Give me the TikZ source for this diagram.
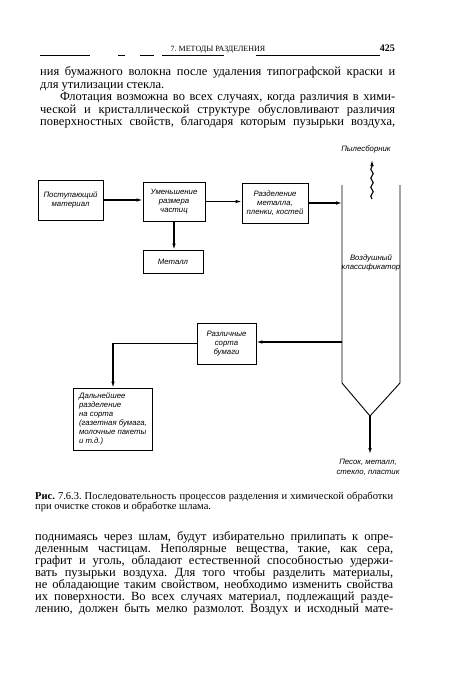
\documentclass[tikz,border=0pt]{standalone}
\usepackage{fontspec}
\setmainfont{Liberation Serif}
\setsansfont{Liberation Sans}
\usetikzlibrary{arrows.meta,decorations.pathmorphing}
\frenchspacing
\begin{document}
\begin{tikzpicture}[x=1pt,y=-1pt,
  box/.style={draw, line width=0.8pt, inner sep=1pt, font=\sffamily\itshape\fontsize{7.8}{9}\selectfont, align=center},
  conn/.style={line width=1.1pt, -{Latex[length=6pt,width=3.6pt]}},
  bodyline/.style={anchor=base west, inner sep=0pt, font=\fontsize{12.5}{12.5}\selectfont},
  capline/.style={anchor=base west, inner sep=0pt, font=\fontsize{10.5}{10.5}\selectfont},
  lbl/.style={font=\sffamily\itshape\fontsize{7.8}{9.5}\selectfont, align=center, inner sep=0pt},
]
\useasboundingbox[fill=white] (0,0) rectangle (450,675);

% header
\node[anchor=base, inner sep=0pt, font=\fontsize{8}{8}\selectfont] (hd) at (218,51) {7. МЕТОДЫ РАЗДЕЛЕНИЯ};
\node[anchor=base east, inner sep=0pt, font=\bfseries\fontsize{10}{10}\selectfont] (pg) at (395,51) {425};
\draw[line width=0.7pt] (40,55) -- (90,55) (118,55) -- (125,55) (140,55) -- (154,55) (162,55) -- (224,55) (256,55) -- (380,55);

% top text
\node[bodyline] (t1) at (40,75.5) {\makebox[355pt][s]{ния бумажного волокна после удаления типографской краски и}};
\node[bodyline] (t2) at (40,88) {для утилизации стекла.};
\node[bodyline] (t3) at (60,100.5) {\makebox[335pt][s]{Флотация возможна во всех случаях, когда различия в хими-}};
\node[bodyline] (t4) at (40,113) {\makebox[355pt][s]{ческой и кристаллической структуре обусловливают различия}};
\node[bodyline] (t5) at (40,125.5) {\makebox[355pt][s]{поверхностных свойств, благодаря которым пузырьки воздуха,}};

% diagram boxes
\node[box, minimum width=65pt, minimum height=40pt] (b1) at (70.5,200) {Поступающий\\материал};
\node[box, minimum width=62pt, minimum height=39pt] (b2) at (174,201.5) {Уменьшение\\размера\\частиц};
\node[box, minimum width=66pt, minimum height=40pt] (b3) at (275,203) {Разделение\\металла,\\пленки, костей};
\node[box, minimum width=60pt, minimum height=23pt] (m) at (173,261.5) {Металл};
\node[box, minimum width=59pt, minimum height=41pt] (b7) at (226.5,343.5) {Различные\\сорта\\бумаги};
\node[box, minimum width=79pt, minimum height=62pt, align=left] (b8) at (113,419) {Дальнейшее\\разделение\\на сорта\\(газетная бумага,\\молочные пакеты\\и т.д.)};

% classifier
\coordinate (wl) at (342,185);
\coordinate (wlb) at (342,383);
\coordinate (apex) at (370,416);
\coordinate (wrb) at (400,383);
\coordinate (wr) at (400,185);
\coordinate (wout) at (342,342);
\coordinate (pout) at (370,454);
\coordinate (dbot) at (372,199);
\coordinate (dtop) at (372,160);
\draw[line width=0.9pt] (wl) -- (wlb) -- (apex) -- (wrb) -- (wr);

% connectors
\draw[conn] (b1.east) -- (b1.east -| b2.west);
\draw[conn] (b2.east) -- (b2.east -| b3.west);
\draw[conn] (b3.east) -- (b3.east -| wl);
\draw[conn] (b2.south) -- (b2.south |- m.north);
\draw[conn] (wout) -- (wout -| b7.east);
\draw[conn] (b7.west) -| (b8.north);
\draw[conn] (apex) -- (pout);
\draw[line width=1.1pt, decorate, decoration={snake, amplitude=1.2pt, segment length=9pt, post length=6pt}, -{Latex[length=6pt,width=3.6pt]}] (dbot) -- (dtop);

% labels
\node[lbl] (dl) at (366,149) {Пылесборник};
\node[lbl] (cl) at (371,263) {Воздушный\\классификатор};
\node[lbl] (pl) at (368,467.5) {Песок, металл,\\стекло, пластик};

% caption
\node[capline] (c1) at (35,499) {\makebox[358pt][s]{\textbf{Рис.} 7.6.3. Последовательность процессов разделения и химической обработки}};
\node[capline] (c2) at (35,509) {при очистке стоков и обработке шлама.};

% bottom text
\node[bodyline] (u1) at (35,540) {\makebox[358pt][s]{поднимаясь через шлам, будут избирательно прилипать к опре-}};
\node[bodyline] (u2) at (35,552) {\makebox[358pt][s]{деленным частицам. Неполярные вещества, такие, как сера,}};
\node[bodyline] (u3) at (35,564) {\makebox[358pt][s]{графит и уголь, обладают естественной способностью удержи-}};
\node[bodyline] (u4) at (35,576) {\makebox[358pt][s]{вать пузырьки воздуха. Для того чтобы разделить материалы,}};
\node[bodyline] (u5) at (35,588) {\makebox[358pt][s]{не обладающие таким свойством, необходимо изменить свойства}};
\node[bodyline] (u6) at (35,600) {\makebox[358pt][s]{их поверхности. Во всех случаях материал, подлежащий разде-}};
\node[bodyline] (u7) at (35,612) {\makebox[358pt][s]{лению, должен быть мелко размолот. Воздух и исходный мате-}};
\end{tikzpicture}
\end{document}
